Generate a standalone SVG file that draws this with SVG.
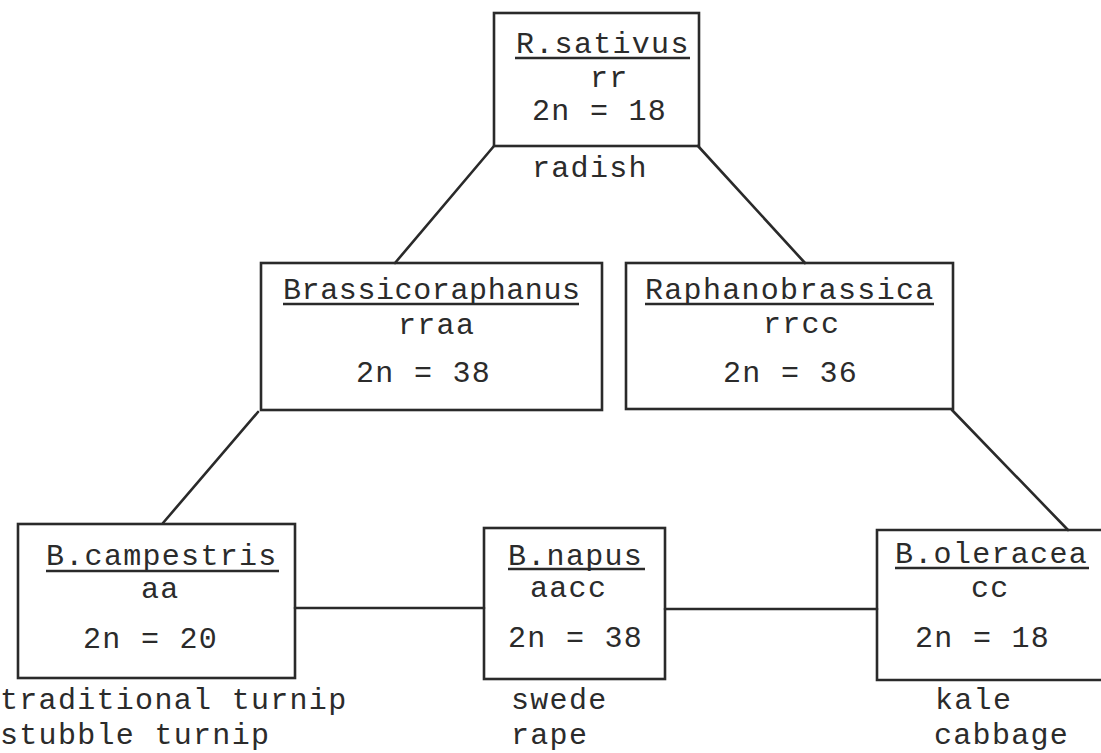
<svg xmlns="http://www.w3.org/2000/svg" width="1101" height="753" viewBox="0 0 1101 753">
<style>
.bg{fill:#ffffff}
.box{fill:none;stroke:#2a2a2a;stroke-width:2.6}
.ln{fill:none;stroke:#2a2a2a;stroke-width:2.6;stroke-linecap:round}
.ul{stroke:#2a2a2a;stroke-width:2.6}
text{font-family:"Liberation Mono","DejaVu Sans Mono",monospace;font-size:30px;letter-spacing:1.3px;fill:#2b2b2b}
.tight{letter-spacing:0.6px}
</style>
<rect class="bg" x="0" y="0" width="1101" height="753"/>
<g id="connectors">
<line class="ln" x1="494" y1="146" x2="395" y2="263"/>
<line class="ln" x1="698" y1="146" x2="805" y2="263"/>
<line class="ln" x1="258" y1="412" x2="163" y2="523"/>
<line class="ln" x1="952" y1="410" x2="1068" y2="530"/>
<line class="ln" x1="295" y1="608" x2="484" y2="608"/>
<line class="ln" x1="665" y1="609" x2="877" y2="609"/>
</g>
<g id="n-rsativus">
<rect class="box" x="494" y="13" width="205" height="133"/>
<text x="516" y="53">R.sativus</text>
<line class="ul" x1="515" y1="58" x2="690" y2="58"/>
<text x="590" y="87">rr</text>
<text x="532" y="120">2n = 18</text>
<text x="532" y="177">radish</text>
</g>
<g id="n-brassicoraphanus">
<rect class="box" x="261" y="263" width="341" height="147"/>
<text class="tight" x="283" y="299">Brassicoraphanus</text>
<line class="ul" x1="283" y1="304" x2="579" y2="304"/>
<text x="398" y="334">rraa</text>
<text x="356" y="382">2n = 38</text>
</g>
<g id="n-raphanobrassica">
<rect class="box" x="626" y="263" width="327" height="146"/>
<text x="645" y="299">Raphanobrassica</text>
<line class="ul" x1="645" y1="304" x2="934" y2="304"/>
<text x="763" y="333">rrcc</text>
<text x="723" y="382">2n = 36</text>
</g>
<g id="n-bcampestris">
<rect class="box" x="18" y="524" width="277" height="154"/>
<text x="46" y="565">B.campestris</text>
<line class="ul" x1="46" y1="571" x2="279" y2="571"/>
<text x="141" y="598">aa</text>
<text x="83" y="648">2n = 20</text>
<text x="0" y="709">traditional turnip</text>
<text x="0" y="744">stubble turnip</text>
</g>
<g id="n-bnapus">
<rect class="box" x="484" y="528" width="181" height="151"/>
<text x="508" y="565">B.napus</text>
<line class="ul" x1="508" y1="569" x2="645" y2="569"/>
<text x="530" y="597">aacc</text>
<text x="508" y="647">2n = 38</text>
<text x="511" y="709">swede</text>
<text x="511" y="744">rape</text>
</g>
<g id="n-boleracea">
<path class="box" d="M1104,530 H877 V680 H1104"/>
<text x="895" y="563">B.oleracea</text>
<line class="ul" x1="895" y1="568" x2="1089" y2="568"/>
<text x="971" y="597">cc</text>
<text x="915" y="647">2n = 18</text>
<text x="935" y="709">kale</text>
<text x="934" y="744">cabbage</text>
</g>
</svg>
